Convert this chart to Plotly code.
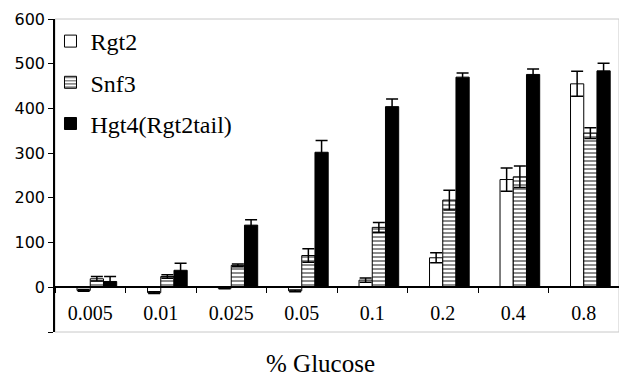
import plotly.graph_objects as go

categories = ["0.005", "0.01", "0.025", "0.05", "0.1", "0.2", "0.4", "0.8"]
rgt2 = [-7, -12, -2, -8, 16, 66, 241, 455]
rgt2_err = [2, 2, 1, 2, 5, 11, 26, 28]
snf3 = [19, 24, 49, 71, 134, 195, 247, 345]
snf3_err = [5, 4, 3, 15, 11, 22, 24, 12]
hgt4 = [13, 38, 139, 302, 404, 470, 476, 484]
hgt4_err = [11, 16, 12, 26, 17, 9, 12, 17]
y_ticks = [-100, 0, 100, 200, 300, 400, 500, 600]
y_labels = ["", "0", "100", "200", "300", "400", "500", "600"]

serif = "Liberation Serif, Times New Roman, serif"

fig = go.Figure()
# empty leading series (keeps the visible bars shifted as in the original)
fig.add_trace(go.Bar(x=categories, y=[None] * len(categories), showlegend=False,
                     hoverinfo="skip"))
err_style = dict(type="data", symmetric=True, color="black", thickness=1.5, width=6)
fig.add_trace(go.Bar(name="Rgt2", x=categories, y=rgt2, legendgroup="a",
                     marker=dict(color="white", line=dict(color="black", width=1)),
                     error_y=dict(array=rgt2_err, **err_style)))
fig.add_trace(go.Bar(name="Snf3", x=categories, y=snf3, legendgroup="b",
                     marker=dict(color="white", line=dict(color="black", width=1),
                                 pattern=dict(shape="-", fgcolor="black", bgcolor="white",
                                              size=4, solidity=0.45)),
                     error_y=dict(array=snf3_err, **err_style)))
fig.add_trace(go.Bar(name="Hgt4(Rgt2tail)", x=categories, y=hgt4, legendgroup="c",
                     marker=dict(color="black", line=dict(color="black", width=1)),
                     error_y=dict(array=hgt4_err, **err_style)))

fig.update_layout(
    width=619, height=379,
    margin=dict(l=55, r=0, t=19, b=47),
    paper_bgcolor="white", plot_bgcolor="white",
    barmode="group", bargap=0.25, bargroupgap=0,
    showlegend=True,
    legend=dict(x=-0.008, y=1.0, xanchor="left", yanchor="top",
                font=dict(family=serif, size=24, color="black"),
                bgcolor="rgba(0,0,0,0)", tracegroupgap=7,
                itemwidth=30),
    xaxis=dict(
        type="category", anchor="free", position=100 / 700,
        showline=True, linecolor="black", linewidth=1.5,
        ticks="outside", tickson="boundaries", ticklen=5, tickcolor="black",
        tickwidth=1.2, ticklabelstandoff=8,
        tickfont=dict(family=serif, size=20, color="black"),
        showgrid=False, zeroline=False,
    ),
    yaxis=dict(
        range=[-100, 600], tickvals=y_ticks, ticktext=y_labels,
        showline=True, linecolor="black", linewidth=1.5,
        ticks="outside", ticklen=5, tickcolor="black", tickwidth=1.2,
        tickfont=dict(family="DejaVu Sans, Verdana, sans-serif", size=16, color="black"),
        showgrid=False, zeroline=False,
    ),
    shapes=[dict(type="rect", xref="paper", yref="paper", x0=0, x1=1, y0=0, y1=1,
                 line=dict(color="#c8c8c8", width=1), layer="below")],
    annotations=[dict(text="% Glucose", xref="paper", yref="paper", x=0.47, y=-0.1,
                      xanchor="center", yanchor="middle", showarrow=False,
                      font=dict(family=serif, size=25, color="black"))],
)

fig.write_html("out.html", config={"displayModeBar": False})

# remove the browser's default body margin so the figure fills the window exactly
with open("out.html", "r", encoding="utf-8") as f:
    html = f.read()
html = html.replace("<body>", '<body style="margin:0;padding:0;overflow:hidden">', 1)
with open("out.html", "w", encoding="utf-8") as f:
    f.write(html)
